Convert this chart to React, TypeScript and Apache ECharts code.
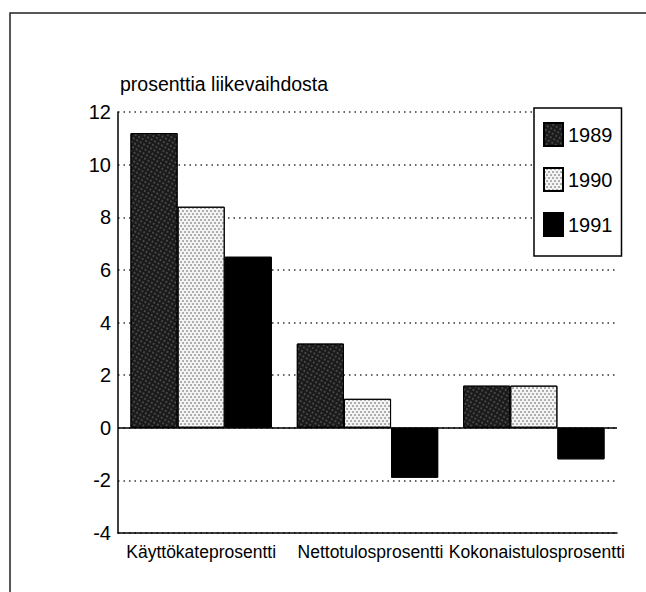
import React, { useEffect, useRef } from "react";
import * as echarts from "echarts";

const categories = ["Käyttökateprosentti", "Nettotulosprosentti", "Kokonaistulosprosentti"];
const years = ["1989", "1990", "1991"];
const values1989 = [11.2, 3.2, 1.6];
const values1990 = [8.4, 1.1, 1.6];
const values1991 = [6.5, -1.9, -1.2];
const yTicks = { min: -4, max: 12, interval: 2 };
const axisTitle = "prosenttia liikevaihdosta";

const FONT = "'Liberation Sans', Arial, Helvetica, sans-serif";

export default function App() {
  const ref = useRef<HTMLDivElement>(null);
  useEffect(() => {
    if (!ref.current) return;
    const chart = echarts.init(ref.current, undefined, { renderer: "svg" });
    const seriesData = [values1989, values1990, values1991];
    const styles = [
      {
        color: "#1a1a1a",
        decal: { symbol: "circle", symbolSize: 0.75, dashArrayX: [2, 2], dashArrayY: [2, 2], color: "#6e6e6e" },
      },
      {
        color: "#f4f4f4",
        decal: { symbol: "circle", symbolSize: 0.7, dashArrayX: [[1.5, 1.5], [0, 1.5, 1.5, 0]], dashArrayY: [1.5, 0.5], color: "#444" },
      },
      {
        color: "#000000",
        decal: { symbol: "rect", symbolSize: 1, dashArrayX: [2, 2], dashArrayY: [2, 2], color: "rgba(0,0,0,0)" },
      },
    ];
    chart.setOption({
      animation: false,
      aria: { enabled: true, decal: { show: true } },
      textStyle: { fontFamily: FONT, color: "#000" },
      graphic: [
        {
          type: "rect",
          shape: { x: 10, y: 13, width: 800, height: 800 },
          style: { fill: "none", stroke: "#222", lineWidth: 1.5 },
          silent: true,
        },
        {
          type: "text",
          x: 120,
          y: 84,
          style: {
            text: axisTitle,
            fontFamily: FONT,
            fontSize: 19.5,
            fill: "#000",
            verticalAlign: "middle",
          },
        },
      ],
      grid: { left: 118, right: 29, top: 112, bottom: 59 },
      legend: {
        data: years,
        orient: "vertical",
        left: 534,
        top: 108,
        padding: [14, 9, 19, 9],
        itemWidth: 19,
        itemHeight: 23,
        itemGap: 20,
        icon: "rect",
        backgroundColor: "#fff",
        borderColor: "#000",
        borderWidth: 1.5,
        textStyle: { fontFamily: FONT, fontSize: 20, color: "#000" },
      },
      xAxis: {
        type: "category",
        data: categories,
        axisLine: { onZero: false, lineStyle: { color: "#000", width: 1.5 } },
        axisTick: { show: false },
        axisLabel: {
          margin: 10,
          fontFamily: FONT,
          fontSize: 17.5,
          color: "#000",
          interval: 0,
          formatter: (v: string, i: number) => (i === 0 ? v : "{s|" + v + "}"),
          rich: { s: { padding: [0, 0, 0, 6], fontFamily: FONT, fontSize: 17.5, color: "#000" } },
        },
      },
      yAxis: {
        type: "value",
        min: yTicks.min,
        max: yTicks.max,
        interval: yTicks.interval,
        axisLine: { show: true, lineStyle: { color: "#000", width: 1.5 } },
        axisTick: { show: false },
        axisLabel: { margin: 7, fontFamily: FONT, fontSize: 20, color: "#000" },
        splitLine: { show: true, lineStyle: { color: "#333", width: 1.5, type: [1.5, 4] } },
      },
      series: years.map((y, i) => ({
        name: y,
        type: "bar",
        data: seriesData[i],
        barGap: "0%",
        barCategoryGap: "15%",
        itemStyle: { color: styles[i].color, decal: styles[i].decal, borderColor: "#000", borderWidth: 1 },
        markLine:
          i === 0
            ? {
                silent: true,
                symbol: ["none", "none"],
                label: { show: false },
                lineStyle: { color: "#000", width: 1.5, type: "solid" },
                data: [{ yAxis: 0 }],
              }
            : undefined,
      })),
    });
    return () => chart.dispose();
  }, []);
  return <div ref={ref} style={{ width: 646, height: 592, position: "absolute", left: 0, top: 0 }} />;
}
